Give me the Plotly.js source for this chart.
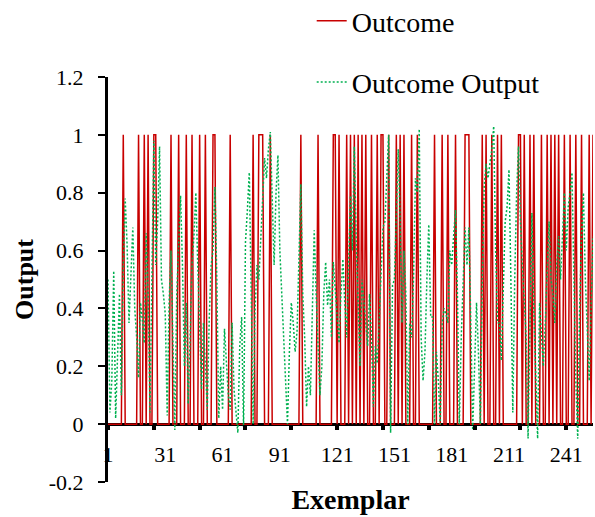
<!DOCTYPE html>
<html>
<head>
<meta charset="utf-8">
<script src="https://cdn.plot.ly/plotly-3.0.1.min.js"></script>
<style>
  html, body { margin: 0; padding: 0; background: #fff; }
  #chart { width: 595px; height: 517px; }
</style>
</head>
<body>
<div id="chart"></div>
<script>
// Outcome (actual, binary) per exemplar 1..255
const outcome = [
  0,0,0,0,0,0,0,0,1,0,
  0,0,0,0,0,0,1,0,0,1,
  0,1,0,0,1,1,0,0,0,0,
  0,0,0,1,0,0,0,1,0,0,
  0,1,0,0,1,0,0,0,1,0,
  0,1,0,0,0,1,1,0,0,0,
  0,0,0,0,1,0,0,0,0,0,
  0,0,0,0,0,0,1,0,0,1,
  1,1,0,0,0,1,0,0,0,0,
  0,0,0,0,0,0,0,0,0,0,
  0,1,0,0,0,0,0,0,0,0,
  1,0,0,0,0,0,0,0,1,1,
  0,1,0,0,0,1,0,1,0,1,
  0,1,0,1,0,1,0,0,1,0,
  0,1,0,1,1,0,0,1,0,0,
  0,1,0,1,0,1,0,0,0,1,
  0,0,1,0,0,0,0,0,0,0,
  0,1,0,0,0,1,0,0,1,0,
  0,0,1,0,0,0,0,1,1,1,
  0,0,0,0,0,0,1,0,1,0,
  0,1,0,0,1,0,1,0,0,0,
  0,0,0,0,0,1,1,0,1,0,
  0,1,0,1,0,0,0,1,0,0,
  1,0,1,0,1,0,1,0,0,1,
  0,0,1,0,0,1,0,0,1,0,
  0,0,1,0,1
];

// Outcome Output (model output) per exemplar 1..255
const outcomeOutput = [
  0.50,0.04,0.15,0.53,0.02,0.28,0.45,0.10,0.55,0.78,
  0.62,0.35,0.50,0.68,0.40,0.30,0.16,0.42,0.36,0.28,
  0.66,0.45,0.04,0.55,0.98,0.55,0.70,0.96,0.50,0.45,
  0.38,0.03,0.42,0.60,0.30,-0.02,0.45,0.62,0.79,0.55,
  0.20,0.42,0.07,0.30,0.55,0.65,0.80,0.55,0.30,0.12,
  0.35,0.20,0.05,0.36,0.55,0.60,0.82,0.50,0.02,0.20,
  0.05,0.33,0.20,0.10,0.05,0.35,0.12,0.03,-0.03,0.27,
  0.37,-0.01,0.63,0.74,0.87,0.45,0.00,0.39,0.55,0.50,
  0.65,0.80,0.92,0.85,0.95,1.01,0.75,0.55,0.80,0.93,
  0.60,0.45,0.30,0.15,0.00,0.25,0.42,0.35,0.25,0.32,
  0.60,0.83,0.45,0.30,0.06,0.20,0.10,0.35,0.67,0.45,
  0.30,0.10,0.20,0.45,0.56,0.41,0.50,0.30,0.56,0.46,
  0.35,0.28,0.45,0.57,0.42,0.30,0.55,0.79,0.60,0.96,
  0.63,0.42,0.20,0.50,0.41,0.35,0.27,0.45,0.30,0.06,
  0.27,0.21,0.35,0.50,0.68,0.70,0.85,1.00,-0.03,0.48,
  0.50,0.75,0.95,0.70,0.35,0.60,0.45,0.00,0.35,0.30,
  0.50,0.85,0.80,1.02,0.30,0.15,0.25,0.50,0.69,0.37,
  0.37,0.00,0.25,0.15,0.00,0.35,0.40,0.38,0.35,0.60,
  0.55,0.65,0.74,0.45,0.00,0.30,0.50,0.68,0.55,0.68,
  0.35,-0.02,0.20,0.42,0.25,0.00,0.50,0.82,0.90,0.85,
  0.90,0.95,1.03,0.60,0.35,0.35,0.22,0.45,0.70,0.75,
  0.88,0.50,0.04,0.50,0.80,0.96,0.70,0.55,0.40,0.30,
  -0.05,0.40,0.73,0.40,0.15,-0.05,0.42,0.30,0.20,0.35,
  0.55,0.70,0.50,0.45,0.35,0.55,0.65,0.50,0.65,0.80,
  0.60,0.75,0.80,0.87,0.50,0.15,-0.05,0.40,0.65,0.80,
  0.50,0.30,0.15,0.40,0.65
];

// Axis ticks
const xLabelVals = [1, 31, 61, 91, 121, 151, 181, 211, 241];
const xLabelText = ["1", "31", "61", "91", "121", "151", "181", "211", "241"];
const xMarkVals = [1, 25, 49, 73, 97, 121, 145, 169, 193, 217, 241];
const yTickVals = [-0.2, 0, 0.2, 0.4, 0.6, 0.8, 1, 1.2];
const yTickText = ["-0.2", "0", "0.2", "0.4", "0.6", "0.8", "1", "1.2"];

const serif = "'Liberation Serif', 'Times New Roman', serif";

const traces = [
  {
    type: 'scatter', mode: 'lines', name: 'Outcome',
    x0: 1, dx: 1, y: outcome,
    line: { color: '#c80000', width: 1.5 },
    legendgroup: 'a', xaxis: 'x', yaxis: 'y'
  },
  {
    type: 'scatter', mode: 'lines', name: 'Outcome Output',
    x0: 1, dx: 1, y: outcomeOutput,
    line: { color: '#00b050', width: 1.5, dash: '2px,2px' },
    legendgroup: 'b', xaxis: 'x2', yaxis: 'y'
  }
];

const yMin = -0.2, yMax = 1.2;
const zeroFrac = (0 - yMin) / (yMax - yMin);

const layout = {
  width: 595, height: 517,
  margin: { l: 108, r: 2, t: 77, b: 35, autoexpand: false },
  paper_bgcolor: '#ffffff', plot_bgcolor: '#ffffff',
  font: { family: serif, size: 22, color: '#000' },
  showlegend: true,
  legend: {
    x: 0.42, y: 1.2, xanchor: 'left', yanchor: 'top',
    font: { family: serif, size: 28, color: '#000' },
    tracegroupgap: 22, bgcolor: 'rgba(0,0,0,0)', borderwidth: 0
  },
  xaxis: {
    range: [1, 255],
    anchor: 'free', position: 0.105,
    tickmode: 'array', tickvals: xLabelVals, ticktext: xLabelText,
    ticks: '', showline: false, showgrid: false, zeroline: false,
    tickfont: { family: serif, size: 22, color: '#000' },
    title: { text: '<b>Exemplar</b>', font: { family: serif, size: 28, color: '#000' }, standoff: 22 }
  },
  xaxis2: {
    range: [1, 255], overlaying: 'x',
    anchor: 'free', position: zeroFrac,
    tickmode: 'array', tickvals: xMarkVals,
    ticks: 'outside', ticklen: 5, tickwidth: 4, tickcolor: '#000',
    showticklabels: false, showline: false, showgrid: false, zeroline: false
  },
  yaxis: {
    range: [yMin, yMax],
    tickmode: 'array', tickvals: yTickVals, ticktext: yTickText,
    ticks: 'outside', ticklen: 7, tickwidth: 2, tickcolor: '#000',
    showline: true, linewidth: 3, linecolor: '#000',
    showgrid: false,
    zeroline: true, zerolinewidth: 3, zerolinecolor: '#000',
    ticklabelstandoff: 10,
    tickfont: { family: serif, size: 22, color: '#000' },
    title: { text: '<b>Output</b>', font: { family: serif, size: 26, color: '#000' }, standoff: 8 }
  }
};

Plotly.newPlot('chart', traces, layout, { displayModeBar: false, staticPlot: true });
</script>
</body>
</html>
